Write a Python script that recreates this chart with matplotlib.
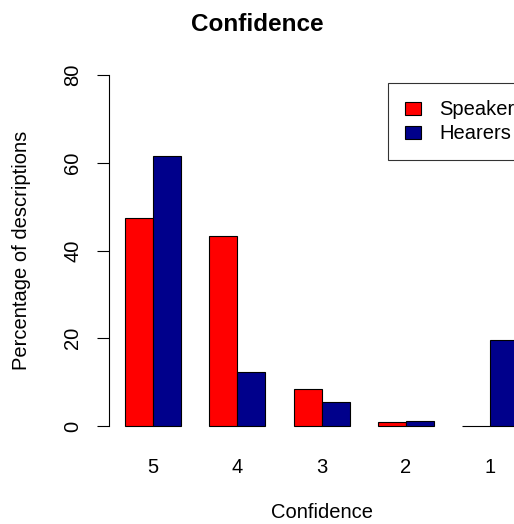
import numpy as np
import matplotlib.pyplot as plt
from matplotlib.patches import Patch

plt.rcParams["font.family"] = ["Liberation Sans", "DejaVu Sans"]

# Data
categories = ["5", "4", "3", "2", "1"]
speakers = [47.4, 43.2, 8.4, 0.9, 0.0]
hearers = [61.6, 12.2, 5.5, 1.1, 19.5]
series_names = ["Speakers", "Hearers"]
series_colors = ["#FF0000", "#00008B"]
y_ticks = [0, 20, 40, 60, 80]

W, H = 514, 524
fig = plt.figure(figsize=(W / 100, H / 100), dpi=100)

# plot region in pixels (R style barplot, right side cut by the image edge)
left_px, right_px, top_px, bottom_px = 109.3, 534.0, 61.0, 440.0
ax = fig.add_axes([left_px / W, 1 - bottom_px / H,
                   (right_px - left_px) / W, (bottom_px - top_px) / H])

# R barplot beside=TRUE geometry: width 1, space c(0, 1)
n = len(categories)
x_left = np.arange(n) * 3 + 1.5
ax.bar(x_left, speakers, width=1.0, color=series_colors[0],
       edgecolor="black", linewidth=0.8)
ax.bar(x_left + 1, hearers, width=1.0, color=series_colors[1],
       edgecolor="black", linewidth=0.8)

ax.set_xlim(0.44, 15.56)
ax.set_ylim(-3.2, 83.2)

for s in ["top", "right", "bottom"]:
    ax.spines[s].set_visible(False)
ax.spines["left"].set_bounds(0, 80)
ax.spines["left"].set_linewidth(0.8)

ax.set_yticks(y_ticks)
ax.set_yticklabels([str(t) for t in y_ticks], rotation=90, va="center",
                   fontsize=14.5)
ax.tick_params(axis="y", length=8.6, width=0.8, pad=11)

ax.set_xticks(x_left + 0.5)
ax.set_xticklabels(categories, fontsize=14.5)
ax.tick_params(axis="x", length=0, pad=13)

ax.set_title("Confidence", fontsize=17.5, fontweight="bold", y=1.0,
             pad=0)
ax.title.set_position((0.5, 1 - 24.5 / H))
ax.title.set_transform(fig.transFigure)
ax.title.set_va("center")

ax.set_xlabel("Confidence", fontsize=14.5)
ax.xaxis.set_label_coords(321.6 / W, 1 - 513 / H, transform=fig.transFigure)
ax.xaxis.label.set_va("center")

ax.set_ylabel("Percentage of descriptions", fontsize=14.5)
ax.yaxis.set_label_coords(22 / W, 1 - 250.5 / H, transform=fig.transFigure)
ax.yaxis.label.set_va("center")

handles = [Patch(facecolor=c, edgecolor="black", linewidth=0.8)
           for c in series_colors]
leg = fig.legend(handles, series_names, loc="upper left",
                 bbox_to_anchor=(388 / W, 1 - 83 / H),
                 frameon=True, fancybox=False, edgecolor="black",
                 fontsize=14.5, handlelength=0.78, handleheight=0.62,
                 handletextpad=0.9, borderpad=0.85, labelspacing=0.25,
                 borderaxespad=0)
leg.get_frame().set_linewidth(0.8)

fig.savefig("out.png", dpi=100)
